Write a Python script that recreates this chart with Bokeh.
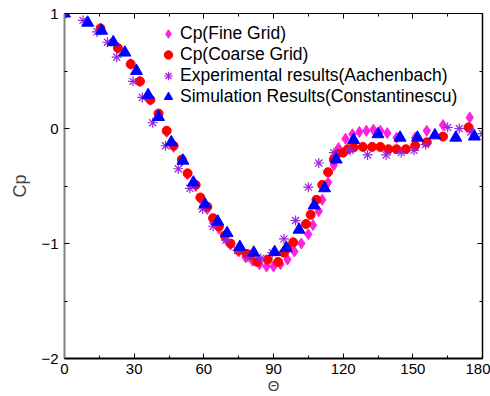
from bokeh.plotting import figure
from bokeh.models import Range1d, FixedTicker, LinearAxis, Legend, LegendItem
from bokeh.embed import file_html
from bokeh.resources import INLINE

# ---- data ----
fine_theta = [0, 15.5, 23, 28.5, 32.5, 37, 40.5, 44, 47, 50.5, 53, 56.5, 58.5, 61.5, 64, 66.5, 69, 71.5,
              75, 78, 81, 84, 87, 90, 93, 96, 99, 102, 105, 107, 109.5, 111, 113.5, 116, 118, 121,
              124, 127, 130, 133, 136, 139, 143, 151, 156, 163, 174.5]
fine_cp = [1.0, 0.87, 0.70, 0.56, 0.41, 0.25, 0.12, -0.03, -0.16, -0.28, -0.40, -0.50, -0.61, -0.70, -0.80, -0.87, -0.95, -1.01,
           -1.07, -1.12, -1.15, -1.18, -1.20, -1.20, -1.18, -1.14, -1.07, -1.00, -0.92, -0.84, -0.72, -0.62, -0.47, -0.32, -0.17, -0.09,
           -0.05, -0.03, -0.02, -0.01, -0.02, -0.04, -0.08, -0.08, -0.02, 0.03, 0.095]

coarse_theta = [0, 15.5, 23, 28.5, 32.5, 37, 40.5, 44, 47, 50.5, 53, 56.5, 58.5, 61.5, 64, 66.5, 69, 71.5,
                75, 78.5, 80, 83, 87.5, 92, 94.5, 96, 98.5, 104, 106, 108.5, 111, 113.5, 116, 117.5,
                120, 122, 124.5, 128.5, 132.5, 136, 139.5, 143, 147, 151, 156, 163, 174]
coarse_cp = [1.0, 0.87, 0.70, 0.56, 0.41, 0.25, 0.13, -0.02, -0.15, -0.27, -0.39, -0.49, -0.60, -0.68, -0.78, -0.85, -0.93, -1.00,
             -1.06, -1.09, -1.10, -1.16, -1.14, -1.16, -1.08, -1.04, -0.99, -0.83, -0.75, -0.62, -0.49, -0.38, -0.27, -0.22,
             -0.21, -0.18, -0.165, -0.16, -0.16, -0.16, -0.18, -0.18, -0.18, -0.15, -0.12, -0.07, 0.01]

exp_theta = [0, 8, 14, 18.5, 22.5, 29.5, 33.5, 38, 43.5, 49, 54, 59.5, 64, 69.5, 74.5, 79, 84.5, 89.5, 94.5, 99.5,
             105, 109.5, 116, 123, 130.5, 138.5, 145, 150.5, 155.5, 165, 170, 175, 180]
exp_cp = [1.0, 0.94, 0.84, 0.75, 0.62, 0.41, 0.27, 0.05, -0.15, -0.35, -0.52, -0.70, -0.85, -0.97, -1.06, -1.12, -1.13, -1.08, -0.96, -0.80,
          -0.51, -0.30, -0.21, -0.19, -0.23, -0.23, -0.21, -0.19, -0.14, 0.01, 0.00, -0.03, -0.045]

sim_theta = [0, 10, 16, 21, 26, 31, 36, 40.5, 46, 51, 55.5, 60.5, 66, 70, 75.5, 81.5, 90.5, 95.5, 101, 107.5,
             112, 117, 124.5, 135, 144.5, 152, 159.5, 168.5, 176.5]
sim_cp = [1.0, 0.92, 0.85, 0.75, 0.66, 0.50, 0.29, 0.10, -0.12, -0.28, -0.47, -0.66, -0.81, -0.91, -1.03, -1.08, -1.075, -1.04, -0.88, -0.67,
          -0.52, -0.27, -0.10, -0.05, -0.08, -0.08, -0.06, -0.08, -0.07]

x_major = [0, 30, 60, 90, 120, 150, 180]
x_minor = [15, 45, 75, 105, 135, 165]
y_major = [-2, -1, 0, 1]
y_minor = [-1.5, -0.5, 0.5]
y_labels = {-2: "\u22122", -1: "\u22121", 0: "0", 1: "1"}

FONT = "Liberation Sans"

p = figure(width=490, height=396, output_backend="svg", toolbar_location=None,
           x_range=Range1d(0, 180), y_range=Range1d(-2, 1),
           min_border_left=64, min_border_right=8, min_border_top=13, min_border_bottom=37,
           x_axis_location=None, y_axis_location=None)
p.xgrid.visible = False
p.ygrid.visible = False
p.outline_line_color = "black"
p.outline_line_width = 1
p.background_fill_color = "white"
p.border_fill_color = "white"


def style_axis(ax, ticker, show_labels, line_color="black", line_width=1):
    ax.ticker = ticker
    ax.axis_line_color = line_color
    ax.axis_line_width = line_width
    ax.major_tick_in = 5
    ax.major_tick_out = 0
    ax.minor_tick_in = 3
    ax.minor_tick_out = 0
    ax.major_tick_line_color = "black"
    ax.minor_tick_line_color = "black"
    ax.major_label_text_font = FONT
    ax.major_label_text_color = "black"
    if show_labels:
        ax.major_label_text_font_size = "15px"
        ax.major_label_standoff = 6
    else:
        ax.major_label_text_font_size = "0px"
        ax.major_label_standoff = 0


xt = FixedTicker(ticks=x_major, minor_ticks=x_minor)
yt = FixedTicker(ticks=y_major, minor_ticks=y_minor)

bottom = LinearAxis(axis_label="\u0398")
style_axis(bottom, xt, True, "black", 2)
bottom.major_label_standoff = 5
bottom.axis_label_text_font = FONT
bottom.axis_label_text_font_size = "15px"
bottom.axis_label_text_font_style = "normal"
bottom.axis_label_standoff = 0
p.add_layout(bottom, "below")

top = LinearAxis()
style_axis(top, FixedTicker(ticks=x_major, minor_ticks=x_minor), False, "black", 1)
p.add_layout(top, "above")

left = LinearAxis(axis_label="Cp")
style_axis(left, yt, True, "#808080", 2)
left.major_label_overrides = y_labels
left.axis_label_text_font = FONT
left.axis_label_text_font_size = "18px"
left.axis_label_text_font_style = "normal"
left.axis_label_standoff = 8
p.add_layout(left, "left")

right = LinearAxis()
style_axis(right, FixedTicker(ticks=y_major, minor_ticks=y_minor), False, "black", 1.5)
p.add_layout(right, "right")

r_fine = p.scatter(fine_theta, fine_cp, marker="diamond", size=11, fill_color="#ff22dd", line_color="#ff22dd")
r_coarse = p.scatter(coarse_theta, coarse_cp, marker="circle", size=9, fill_color="#ff0000", line_color="#ff0000")
r_exp1 = p.scatter(exp_theta, exp_cp, marker="cross", size=10, line_color="#9a22dd", line_width=1.2)
r_exp2 = p.scatter(exp_theta, exp_cp, marker="x", size=10, line_color="#9a22dd", line_width=1.2)
r_sim = p.scatter(sim_theta, sim_cp, marker="triangle", size=12, fill_color="#0000ff", line_color="#0000ff")

legend = Legend(items=[
    LegendItem(label="Cp(Fine Grid)", renderers=[r_fine]),
    LegendItem(label="Cp(Coarse Grid)", renderers=[r_coarse]),
    LegendItem(label="Experimental results(Aachenbach)", renderers=[r_exp1, r_exp2]),
    LegendItem(label="Simulation Results(Constantinescu)", renderers=[r_sim]),
], location=(92, 251))
legend.border_line_color = None
legend.background_fill_alpha = 0
legend.label_text_font = FONT
legend.label_text_font_size = "17.5px"
legend.label_text_color = "black"
legend.glyph_width = 24
legend.glyph_height = 21
legend.label_height = 21
legend.label_standoff = 0
legend.spacing = 0
legend.padding = 0
legend.margin = 0
p.add_layout(legend, "center")

html = file_html(p, INLINE)
open("out.html", "w").write(html)
